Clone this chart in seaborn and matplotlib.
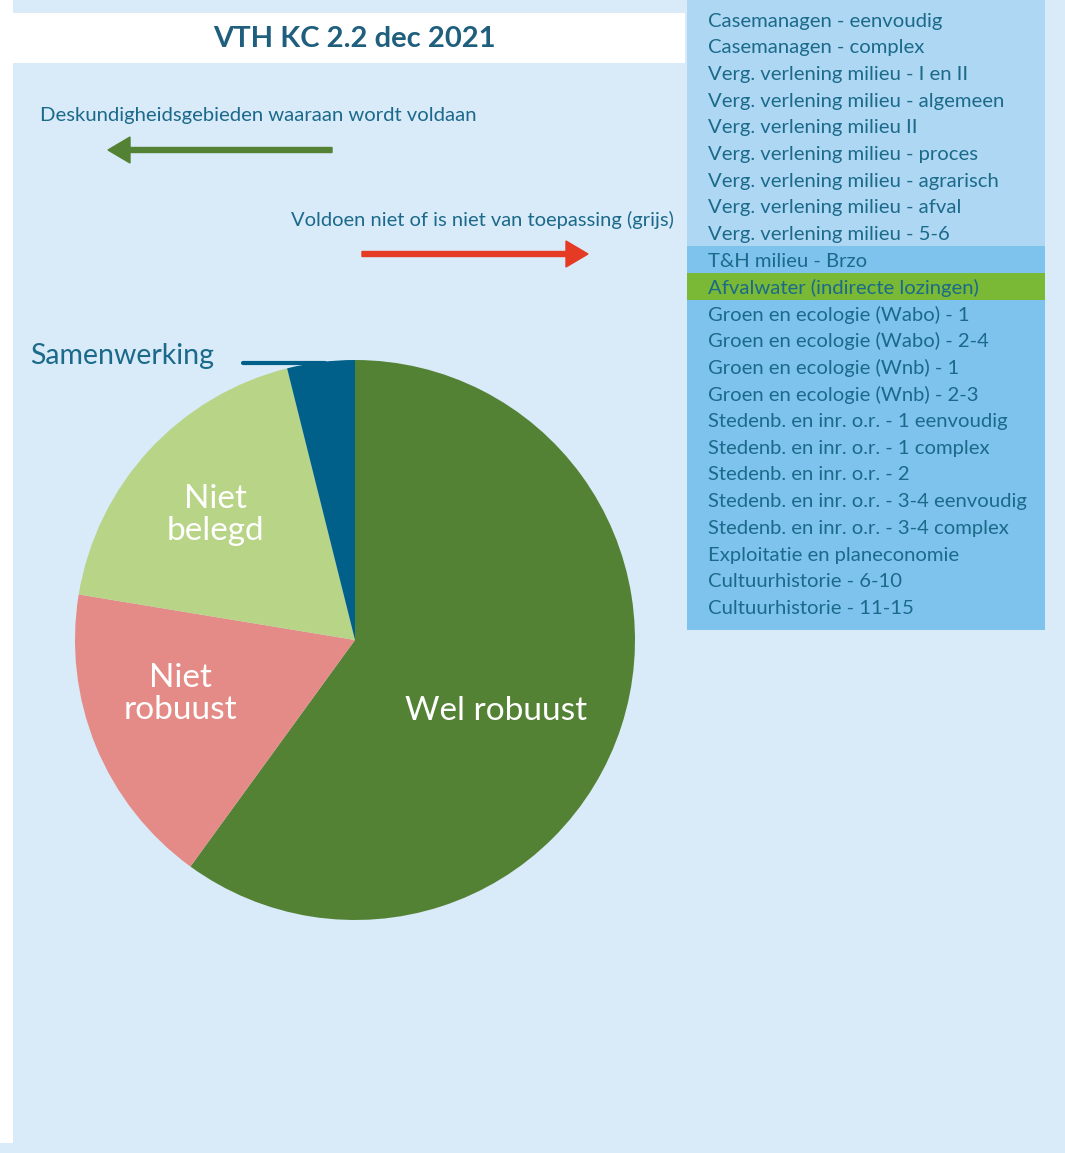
import matplotlib
matplotlib.use("Agg")
import matplotlib.pyplot as plt
import seaborn as sns
from matplotlib.patches import Rectangle, FancyArrow

sns.set_theme(style="white")
plt.rcParams['font.family'] = ['Lato', 'DejaVu Sans']

# ---- data ----
categories = ["Wel robuust", "Niet robuust", "Niet belegd", "Samenwerking"]
values = [60.0, 17.6, 18.5, 3.9]
colors = ["#548235", "#E48B87", "#B8D486", "#00608A"]

list_top = ["Casemanagen - eenvoudig", "Casemanagen - complex",
            "Verg. verlening milieu - I en II", "Verg. verlening milieu - algemeen",
            "Verg. verlening milieu II", "Verg. verlening milieu - proces",
            "Verg. verlening milieu - agrarisch", "Verg. verlening milieu - afval",
            "Verg. verlening milieu - 5-6"]
list_mid = ["T&H milieu - Brzo"]
list_green = ["Afvalwater (indirecte lozingen)"]
list_bottom = ["Groen en ecologie (Wabo) - 1", "Groen en ecologie (Wabo) - 2-4",
               "Groen en ecologie (Wnb) - 1", "Groen en ecologie (Wnb) - 2-3",
               "Stedenb. en inr. o.r. - 1 eenvoudig", "Stedenb. en inr. o.r. - 1 complex",
               "Stedenb. en inr. o.r. - 2", "Stedenb. en inr. o.r. - 3-4 eenvoudig",
               "Stedenb. en inr. o.r. - 3-4 complex", "Exploitatie en planeconomie",
               "Cultuurhistorie - 6-10", "Cultuurhistorie - 11-15"]

title = "VTH KC 2.2 dec 2021"

W, H = 1065, 1153
fig = plt.figure(figsize=(W / 100, H / 100), dpi=100)
fig.patch.set_facecolor("white")

def fx(x):
    return x / W

def fy(y):
    return 1 - y / H

def rect(x0, y0, x1, y1, color, z=0):
    fig.patches.append(Rectangle((fx(x0), fy(y1)), fx(x1) - fx(x0), fy(y0) - fy(y1),
                                 transform=fig.transFigure, facecolor=color,
                                 edgecolor="none", zorder=z))

BG = "#D9EAF9"
TXT = "#1B6A8A"
# background
rect(0, 0, W, H, BG, 0)
rect(0, 0, 13, 1143, "white", 1)
rect(13, 13, 685, 63, "white", 1)

# title
fig.text(fx(354), fy(39), title, ha="center", va="center", fontsize=21,
         fontweight="bold", color="#1F5E7C", zorder=3)

# right list boxes
LINE = 26.7
rect(687, 0, 1045, 246, "#AED7F3", 1)
rect(687, 246, 1045, 273, "#7EC3EE", 1)
rect(687, 273, 1045, 300, "#79B935", 1)
rect(687, 300, 1045, 630, "#7EC3EE", 1)
all_items = list_top + list_mid + list_green + list_bottom
for i, item in enumerate(all_items):
    fig.text(fx(708), fy(21 + i * LINE), item, ha="left", va="center",
             fontsize=14.6, color=TXT, zorder=3)

# annotations
fig.text(fx(40), fy(116), "Deskundigheidsgebieden waaraan wordt voldaan",
         ha="left", va="center", fontsize=14.6, color=TXT, zorder=3)
fig.text(fx(674), fy(220), "Voldoen niet of is niet van toepassing (grijs)",
         ha="right", va="center", fontsize=14.5, color=TXT, zorder=3)

# arrows
fig.patches.append(FancyArrow(fx(332), fy(150), fx(108) - fx(332), 0, width=5 / H,
                              head_width=26 / H, head_length=22 / W,
                              length_includes_head=True, transform=fig.transFigure,
                              color="#538234", zorder=3))
fig.patches.append(FancyArrow(fx(362), fy(254), fx(588) - fx(362), 0, width=5 / H,
                              head_width=26 / H, head_length=22 / W,
                              length_includes_head=True, transform=fig.transFigure,
                              color="#E53A24", zorder=3))

# pie
cx, cy, r = 355, 640, 280
ax = fig.add_axes([fx(cx - r), fy(cy + r), 2 * r / W, 2 * r / H])
ax.set_zorder(2)
ax.patch.set_alpha(0)
ax.pie(values, colors=colors, startangle=90, counterclock=False,
       wedgeprops=dict(linewidth=0))
ax.set_xlim(-1, 1)
ax.set_ylim(-1, 1)
ax.set_aspect("equal")
ax.axis("off")

def px2d(x, y):
    return (x - cx) / r, (cy - y) / r

lab_kw = dict(ha="center", va="center", color="white", fontsize=24,
              linespacing=1.12)
ax.text(*px2d(496, 711), "Wel robuust", **lab_kw)
ax.text(*px2d(180, 694), "Niet\nrobuust", **lab_kw)
ax.text(*px2d(215, 515), "Niet\nbelegd", **lab_kw)

# Samenwerking label with leader
fig.text(fx(30), fy(356), "Samenwerking", ha="left", va="center", fontsize=20.5,
         color="#1B6A8A", zorder=3)
fig.lines.append(plt.Line2D([fx(243), fx(325)], [fy(363), fy(363)],
                            transform=fig.transFigure, color="#00608A",
                            linewidth=3, zorder=3))

fig.savefig("out.png", dpi=100, facecolor=fig.get_facecolor())
